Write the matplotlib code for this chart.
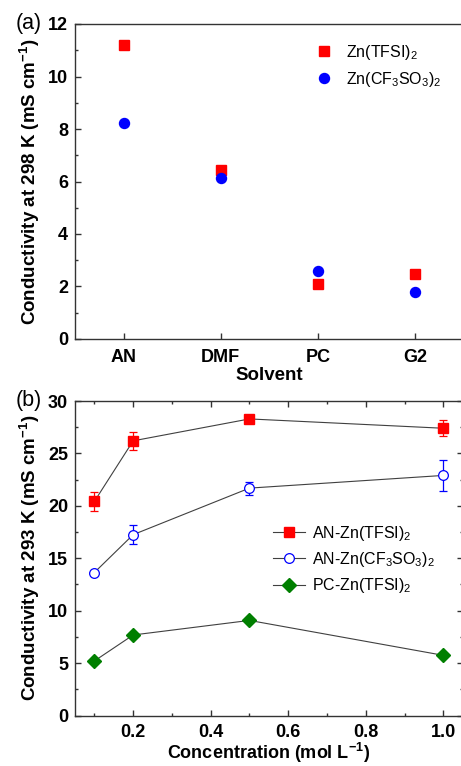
import matplotlib
matplotlib.use("Agg")
import matplotlib.pyplot as plt
from matplotlib.ticker import MultipleLocator

plt.rcParams['font.family'] = ['Liberation Sans', 'DejaVu Sans']
plt.rcParams['mathtext.fontset'] = 'custom'
plt.rcParams['mathtext.rm'] = 'Liberation Sans'
plt.rcParams['mathtext.it'] = 'Liberation Sans:italic'
plt.rcParams['mathtext.bf'] = 'Liberation Sans:bold'

# ---- data panel (a)
solvents = ['AN', 'DMF', 'PC', 'G2']
tfsi_a = [11.21, 6.44, 2.10, 2.46]
cf3_a = [8.24, 6.12, 2.60, 1.80]

# ---- data panel (b)
conc = [0.1, 0.2, 0.5, 1.0]
an_tfsi = [20.42, 26.2, 28.29, 27.4]
an_tfsi_err = [0.93, 0.85, 0.15, 0.76]
an_cf3 = [13.64, 17.25, 21.69, 22.9]
an_cf3_err = [0.0, 0.9, 0.63, 1.45]
pc_tfsi = [5.2, 7.68, 9.07, 5.74]

spine_c = '#333333'
TICK_FS = 13
LAB_FS = 13.5
LEG_FS = 11.5

fig = plt.figure(figsize=(4.61, 7.66), dpi=100)

W, H = 461.0, 766.0
axa = fig.add_axes([75/W, 1-339/H, (463.6-75)/W, (339-24)/H])
axb = fig.add_axes([75/W, 1-715.5/H, (462.7-75)/W, (715.5-401)/H])

# ---- panel (a)
x = list(range(len(solvents)))
axa.plot(x, tfsi_a, ls='none', marker='s', ms=6.5, color='#ff0000', mec='#ff0000',
         label='Zn(TFSI)$_2$')
axa.plot(x, cf3_a, ls='none', marker='o', ms=7.2, color='#0000ff', mec='#0000ff',
         label='Zn(CF$_3$SO$_3$)$_2$')
axa.set_xlim(-0.5, 3.5)
axa.set_ylim(0, 12)
axa.set_xticks(x)
axa.set_xticklabels(solvents)
axa.yaxis.set_major_locator(MultipleLocator(2))
axa.yaxis.set_minor_locator(MultipleLocator(1))
axa.tick_params(axis='both', which='both', direction='in', color=spine_c)
axa.tick_params(axis='both', which='major', length=4.5, width=1.0, labelsize=TICK_FS, pad=5)
axa.tick_params(axis='x', which='major', pad=7)
axa.tick_params(axis='both', which='minor', length=2.5, width=1.0)
axa.tick_params(axis='x', which='minor', bottom=False)
for lab in axa.get_xticklabels() + axa.get_yticklabels():
    lab.set_fontweight('bold')
axa.set_xlabel('Solvent', fontsize=LAB_FS, fontweight='bold', labelpad=1)
axa.set_ylabel(r'Conductivity at 298 K (mS cm$^{\mathbf{-1}}$)', fontsize=LAB_FS,
               fontweight='bold', labelpad=4)
for s in axa.spines.values():
    s.set_color(spine_c)
    s.set_linewidth(1.0)
axa.legend(loc='upper left', bbox_to_anchor=(0.6, 0.96), frameon=False, fontsize=LEG_FS,
           handletextpad=0.75, labelspacing=0.5, handlelength=1.2, borderaxespad=0)
axa.text(-0.085, 1.0, '(a)', transform=axa.transAxes, fontsize=15.5,
         ha='right', va='center')

# ---- panel (b)
line_c = '#404040'
kw = dict(capsize=2.8, elinewidth=0.9, capthick=0.9, lw=0.8)
axb.plot(conc, an_tfsi, color=line_c, lw=0.8, zorder=1)
axb.plot(conc, an_cf3, color=line_c, lw=0.8, zorder=1)
axb.plot(conc, pc_tfsi, color=line_c, lw=0.8, zorder=1)
axb.errorbar(conc, an_tfsi, yerr=an_tfsi_err, fmt='none', ecolor='#ff0000', **kw)
axb.errorbar(conc, an_cf3, yerr=an_cf3_err, fmt='none', ecolor='#0000ff', **kw)
axb.plot(conc, an_tfsi, ls='none', marker='s', ms=6.5, color='#ff0000', zorder=3)
axb.plot(conc, an_cf3, ls='none', marker='o', ms=7.0, mfc='white', mec='#0000ff',
         mew=0.9, zorder=3)
axb.plot(conc, pc_tfsi, ls='none', marker='D', ms=7.0, color='#007f00', zorder=3)
# legend handles
h1, = axb.plot([], [], color=line_c, lw=0.8, marker='s', ms=6.5, mfc='#ff0000', mec='#ff0000')
h2, = axb.plot([], [], color=line_c, lw=0.8, marker='o', ms=7.0, mfc='white', mec='#0000ff', mew=0.9)
h3, = axb.plot([], [], color=line_c, lw=0.8, marker='D', ms=7.0, mfc='#007f00', mec='#007f00')
axb.legend([h1, h2, h3], ['AN-Zn(TFSI)$_2$', 'AN-Zn(CF$_3$SO$_3$)$_2$', 'PC-Zn(TFSI)$_2$'],
           loc='upper left', bbox_to_anchor=(0.495, 0.63), frameon=False, fontsize=LEG_FS,
           handlelength=2.0, handletextpad=0.4, labelspacing=0.45, borderaxespad=0)
axb.set_xlim(0.05, 1.05)
axb.set_ylim(0, 30)
axb.xaxis.set_minor_locator(MultipleLocator(0.1))
axb.yaxis.set_major_locator(MultipleLocator(5))
axb.yaxis.set_minor_locator(MultipleLocator(2.5))
axb.tick_params(axis='both', which='both', direction='in', top=True, right=True, color=spine_c)
axb.tick_params(axis='both', which='major', length=4.5, width=1.0, labelsize=TICK_FS, pad=5)
axb.tick_params(axis='x', which='major', pad=6)
axb.tick_params(axis='both', which='minor', length=2.5, width=1.0)
xt = [0.2, 0.4, 0.6, 0.8, 1.0]
axb.set_xticks(xt)
axb.set_xticklabels(['0.2', '0.4', '0.6', '0.8', '1.0'])
for lab in axb.get_xticklabels() + axb.get_yticklabels():
    lab.set_fontweight('bold')
axb.set_xlabel(r'Concentration (mol L$^{\mathbf{-1}}$)', fontsize=13, fontweight='bold', labelpad=0)
axb.set_ylabel(r'Conductivity at 293 K (mS cm$^{\mathbf{-1}}$)', fontsize=LAB_FS,
               fontweight='bold', labelpad=4)
for s in axb.spines.values():
    s.set_color(spine_c)
    s.set_linewidth(1.0)
axb.text(-0.085, 1.0, '(b)', transform=axb.transAxes, fontsize=15.5, ha='right', va='center')

fig.savefig('out.png', dpi=100)
